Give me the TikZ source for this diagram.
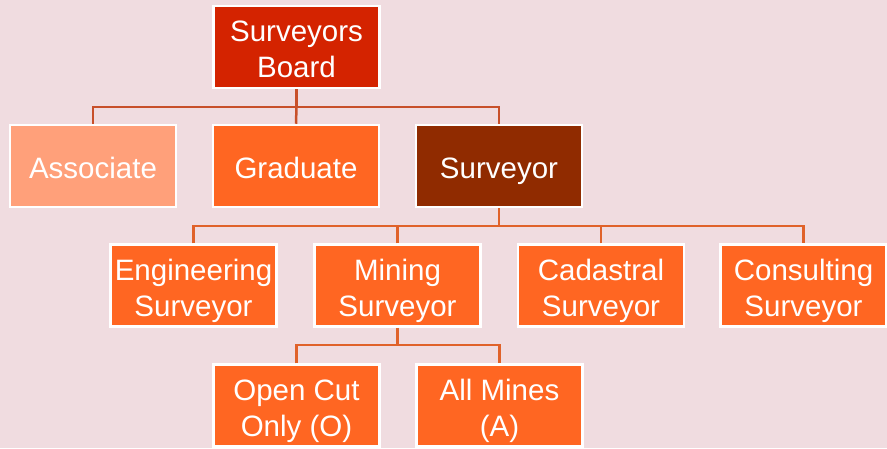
\documentclass[tikz,border=0pt]{standalone}
\usepackage{fontspec}
\setmainfont{Liberation Sans}
\definecolor{bg}{HTML}{F0DCE0}
\definecolor{boardc}{HTML}{D42300}
\definecolor{assocc}{HTML}{FFA07A}
\definecolor{orangec}{HTML}{FF6622}
\definecolor{survc}{HTML}{902B00}
\definecolor{linec}{HTML}{C8502A}
\definecolor{linec2}{HTML}{E0622A}
\begin{document}
\begin{tikzpicture}[x=1pt,y=-1pt,
  box/.style={draw=white,line width=2.5pt,minimum width=166pt,minimum height=82pt,inner sep=0pt},
  txt/.style={text=white,anchor=base,inner sep=0pt,font=\fontsize{29.5}{36}\selectfont},
  conn/.style={line width=2.5pt}]
\fill[bg] (0,0) rectangle (887,448);
\useasboundingbox (0,0) rectangle (887,448);
\coordinate (j1) at (296.5,107);
\coordinate (j2) at (499,226);
\coordinate (j3) at (397.5,345);
% boxes
\node[box,fill=boardc] (board) at (296.5,47) {};
\node[box,fill=assocc] (assoc) at (93,166) {};
\node[box,fill=orangec] (grad) at (296,166) {};
\node[box,fill=survc] (surv) at (499,166) {};
\node[box,fill=orangec] (eng) at (193.5,285.5) {};
\node[box,fill=orangec] (min) at (397.5,285.5) {};
\node[box,fill=orangec] (cad) at (601,285.5) {};
\node[box,fill=orangec] (con) at (803.5,285.5) {};
\node[box,fill=orangec] (open) at (296.5,405.5) {};
\node[box,fill=orangec] (all) at (499.5,405.5) {};
% texts
\node[txt] (board1) at ([yshift=6pt]board.center) {Surveyors};
\node[txt] (board2) at ([yshift=-30pt]board.center) {Board};
\node[txt] (assoc1) at ([yshift=-12pt]assoc.center) {Associate};
\node[txt] (grad1) at ([yshift=-12pt]grad.center) {Graduate};
\node[txt] (surv1) at ([yshift=-12pt]surv.center) {Surveyor};
\node[txt] (eng1) at ([yshift=5.5pt]eng.center) {Engineering};
\node[txt] (eng2) at ([yshift=-31pt]eng.center) {Surveyor};
\node[txt] (min1) at ([yshift=5.5pt]min.center) {Mining};
\node[txt] (min2) at ([yshift=-31pt]min.center) {Surveyor};
\node[txt] (cad1) at ([yshift=5.5pt]cad.center) {Cadastral};
\node[txt] (cad2) at ([yshift=-31pt]cad.center) {Surveyor};
\node[txt] (con1) at ([yshift=5.5pt]con.center) {Consulting};
\node[txt] (con2) at ([yshift=-31pt]con.center) {Surveyor};
\node[txt] (open1) at ([yshift=5.5pt]open.center) {Open Cut};
\node[txt] (open2) at ([yshift=-31pt]open.center) {Only (O)};
\node[txt] (all1) at ([yshift=5.5pt]all.center) {All Mines};
\node[txt] (all2) at ([yshift=-31pt]all.center) {(A)};
% connectors
\draw[conn,linec] (board.south) -- (j1);
\draw[conn,linec] (assoc.north) |- (j1) -| (surv.north);
\draw[conn,linec] (j1) -- (grad.north);
\draw[conn,linec2] (surv.south) -- (j2);
\draw[conn,linec2] (eng.north) |- (j2) -| (con.north);
\draw[conn,linec2] (min.north) |- (j2);
\draw[conn,linec2] (cad.north) |- (j2);
\draw[conn,linec2] (min.south) -- (j3);
\draw[conn,linec2] (open.north) |- (j3) -| (all.north);
\end{tikzpicture}
\end{document}
